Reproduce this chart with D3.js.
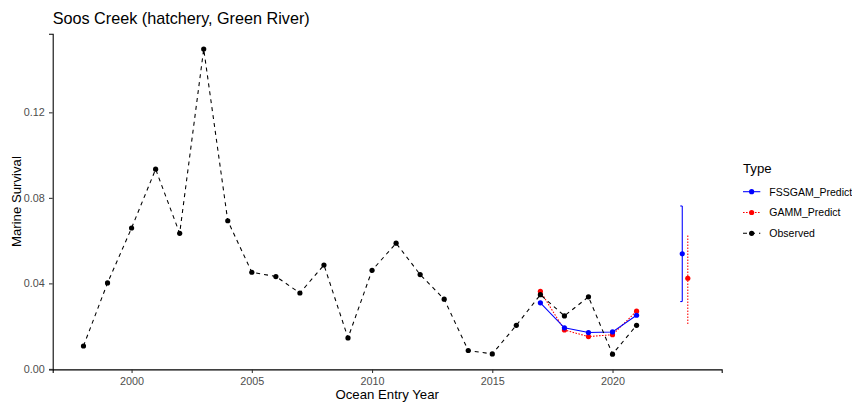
<!DOCTYPE html>
<html>
<head>
<meta charset="utf-8">
<script src="https://cdn.jsdelivr.net/npm/d3@7"></script>
<style>
  html, body { margin: 0; padding: 0; background: #fff; overflow: hidden; }
  svg { display: block; font-family: "Liberation Sans", Arial, sans-serif; }
</style>
</head>
<body>
<svg id="chart" width="852" height="404"></svg>
<script>
// Marine survival by ocean entry year
const obsYears = [1998, 1999, 2000, 2001, 2002, 2003, 2004, 2005, 2006, 2007, 2008, 2009,
                  2010, 2011, 2012, 2013, 2014, 2015, 2016, 2017, 2018, 2019, 2020, 2021];
const observed = [0.0107, 0.0402, 0.0659, 0.0934, 0.0634, 0.1496, 0.0693, 0.0452, 0.0432,
                  0.0355, 0.0486, 0.0145, 0.0461, 0.0588, 0.0441, 0.0326, 0.0086, 0.0070,
                  0.0204, 0.0347, 0.0248, 0.0337, 0.0069, 0.0204];

const predYears = [2017, 2018, 2019, 2020, 2021];
const fssgam = [0.0309, 0.0192, 0.0170, 0.0173, 0.0251];
const gamm   = [0.0363, 0.0182, 0.0151, 0.0160, 0.0270];

// Forecast for the next entry year, with intervals
const forecastYear = 2023;
const forecastTypes = ["FSSGAM_Predict", "GAMM_Predict"];
const forecastMid   = [0.0538, 0.0424];
const forecastLow   = [0.0315, 0.0210];
const forecastHigh  = [0.0762, 0.0631];
const forecastDodge = [-0.1, 0.13];

const xTicks = [2000, 2005, 2010, 2015, 2020];
const yTicks = [0.00, 0.04, 0.08, 0.12];
const typeNames = ["FSSGAM_Predict", "GAMM_Predict", "Observed"];

const styles = {
  FSSGAM_Predict: { color: "#0000ff", dash: null, cap: 2 },
  GAMM_Predict:   { color: "#ff0000", dash: "1.6,1.4", cap: 0 },
  Observed:       { color: "#000000", dash: "4,4", cap: 0 }
};

const svg = d3.select("#chart");
const panel = { left: 52.7, right: 721.7, top: 33.8, bottom: 369.4 };

// 5% padding around the data range
const yMin = d3.min(observed), yMax = d3.max(observed);
const yPad = 0.05 * (yMax - yMin);
const x = d3.scaleLinear().domain([1996.72, 2024.54]).range([panel.left, panel.right]);
const y = d3.scaleLinear().domain([yMin - yPad, yMax + yPad]).range([panel.bottom, panel.top]);

const series = [
  { type: "GAMM_Predict", pts: predYears.map((yr, i) => ({ x: yr, y: gamm[i] })) },
  { type: "FSSGAM_Predict", pts: predYears.map((yr, i) => ({ x: yr, y: fssgam[i] })) },
  { type: "Observed", pts: obsYears.map((yr, i) => ({ x: yr, y: observed[i] })) }
];

const line = d3.line().x(d => x(d.x)).y(d => y(d.y));

// Lines
const gLines = svg.append("g");
series.forEach(s => {
  gLines.append("path")
    .datum(s.pts)
    .attr("d", line)
    .attr("fill", "none")
    .attr("stroke", styles[s.type].color)
    .attr("stroke-width", 1.07)
    .attr("stroke-dasharray", styles[s.type].dash);
});

// Forecast intervals
const gErr = svg.append("g");
forecastTypes.forEach((t, i) => {
  const xe = x(forecastYear + forecastDodge[i]);
  const st = styles[t];
  const g = gErr.append("g")
    .attr("fill", "none")
    .attr("stroke", st.color)
    .attr("stroke-width", 1.07)
    .attr("stroke-dasharray", st.dash);
  g.append("line").attr("x1", xe).attr("x2", xe)
    .attr("y1", y(forecastLow[i])).attr("y2", y(forecastHigh[i]));
  if (st.cap > 0) {
    [forecastLow[i], forecastHigh[i]].forEach(v => {
      g.append("line").attr("x1", xe - st.cap).attr("x2", xe)
        .attr("y1", y(v)).attr("y2", y(v));
    });
  }
});

// Points
const gPts = svg.append("g");
series.forEach(s => {
  gPts.selectAll(null)
    .data(s.pts)
    .join("circle")
    .attr("cx", d => x(d.x))
    .attr("cy", d => y(d.y))
    .attr("r", 2.6)
    .attr("fill", styles[s.type].color);
});
forecastTypes.forEach((t, i) => {
  gPts.append("circle")
    .attr("cx", x(forecastYear + forecastDodge[i]))
    .attr("cy", y(forecastMid[i]))
    .attr("r", 2.6)
    .attr("fill", styles[t].color);
});

// Axes
const xAxis = svg.append("g")
  .attr("transform", `translate(0,${panel.bottom})`)
  .call(d3.axisBottom(x).tickValues(xTicks).tickFormat(d3.format("d")).tickSizeOuter(0).tickSize(3.7).tickPadding(4));
const yAxis = svg.append("g")
  .attr("transform", `translate(${panel.left},0)`)
  .call(d3.axisLeft(y).tickValues(yTicks).tickFormat(d3.format(".2f")).tickSizeOuter(0).tickSize(3.7).tickPadding(4.3));

[xAxis, yAxis].forEach(a => {
  a.select(".domain").attr("stroke", "#000").attr("stroke-width", 1.07);
  a.selectAll(".tick line").attr("stroke", "#333").attr("stroke-width", 1.07);
  a.selectAll(".tick text")
    .attr("fill", "#4d4d4d")
    .style("font-size", "10.8px")
    .style("font-family", "'Liberation Sans', Arial, sans-serif");
});

// Axis titles
svg.append("text")
  .attr("x", (panel.left + panel.right) / 2)
  .attr("y", 398.5)
  .attr("text-anchor", "middle")
  .attr("fill", "#000")
  .style("font-size", "13.2px")
  .text("Ocean Entry Year");

svg.append("text")
  .attr("transform", `translate(20.5,${(panel.top + panel.bottom) / 2}) rotate(-90)`)
  .attr("text-anchor", "middle")
  .attr("fill", "#000")
  .style("font-size", "13.2px")
  .text("Marine Survival");

// Title
svg.append("text")
  .attr("x", panel.left)
  .attr("y", 24)
  .attr("fill", "#000")
  .style("font-size", "16.2px")
  .text("Soos Creek (hatchery, Green River)");

// Legend
const legend = svg.append("g").attr("transform", "translate(743,0)");
legend.append("text")
  .attr("x", 0).attr("y", 173)
  .attr("fill", "#000")
  .style("font-size", "13.2px")
  .text("Type");

typeNames.forEach((t, i) => {
  const ky = 191.7 + i * 20.8;
  const st = styles[t];
  legend.append("line")
    .attr("x1", 0).attr("x2", 17.3)
    .attr("y1", ky).attr("y2", ky)
    .attr("stroke", st.color)
    .attr("stroke-width", 1.07)
    .attr("stroke-dasharray", st.dash);
  legend.append("circle")
    .attr("cx", 8.65).attr("cy", ky).attr("r", 2.6)
    .attr("fill", st.color);
  legend.append("text")
    .attr("x", 26.3).attr("y", ky + 3.8)
    .attr("fill", "#000")
    .style("font-size", "10.5px")
    .text(t);
});
</script>
</body>
</html>
